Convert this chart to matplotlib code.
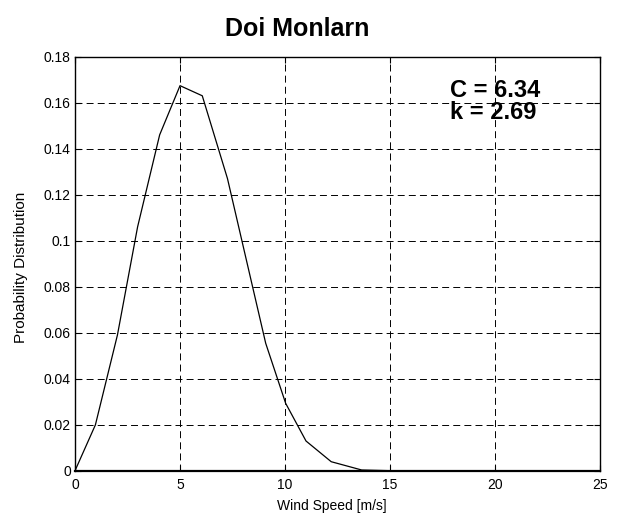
import matplotlib
matplotlib.use("Agg")
import matplotlib.pyplot as plt

plt.rcParams['font.family'] = ['Liberation Sans', 'DejaVu Sans']
plt.rcParams['lines.scale_dashes'] = False

# Data
wind_speed = [0, 0.97, 2.02, 2.98, 4.03, 5.0, 6.06, 7.26, 9.08, 10.03, 11.0, 12.2, 13.65, 15, 20, 25]
probability = [0, 0.0199, 0.059, 0.106, 0.146, 0.1674, 0.163, 0.127, 0.0554, 0.0293, 0.0129, 0.0039, 0.0003, 0.0, 0.0, 0.0]

x_ticks = [0, 5, 10, 15, 20, 25]
y_ticks = [0, 0.02, 0.04, 0.06, 0.08, 0.1, 0.12, 0.14, 0.16, 0.18]
y_tick_labels = ['0', '0.02', '0.04', '0.06', '0.08', '0.1', '0.12', '0.14', '0.16', '0.18']

title = 'Doi Monlarn'
annotation = 'C = 6.34\nk = 2.69'

fig = plt.figure(figsize=(6.19, 5.13), dpi=100)
ax = fig.add_axes([0.1212, 0.0825, 0.9693 - 0.1212, 0.8895 - 0.0825])

ax.plot(wind_speed, probability, color='black', linewidth=0.9)

ax.set_xlim(0, 25)
ax.set_ylim(0, 0.18)
ax.set_xticks(x_ticks)
ax.set_yticks(y_ticks)
ax.set_yticklabels(y_tick_labels)

ax.grid(True, color='black', linestyle=(0, (5, 3)), linewidth=0.7)
ax.set_axisbelow(True)

ax.tick_params(direction='in', top=True, right=True, length=4, width=0.8,
               labelsize=10, colors='black')
ax.tick_params(axis='x', pad=5)
ax.tick_params(axis='y', pad=3)
for s in ax.spines.values():
    s.set_linewidth(1.0)
    s.set_color('black')
ax.spines['bottom'].set_linewidth(1.6)

ax.set_xlabel('Wind Speed [m/s]', fontsize=10)
ax.set_ylabel('Probability Distribution', fontsize=11)
ax.xaxis.set_label_coords(0.49, -0.068)
ax.yaxis.set_label_coords(-0.09, 0.49)

fig.text(297 / 619, (513 - 36) / 513, title, fontsize=18, fontweight='bold',
         ha='center', va='baseline')

ax.text(17.85, 0.1705, annotation, fontsize=17, fontweight='bold',
        ha='left', va='top', linespacing=0.95)

fig.savefig('out.png', dpi=100)
